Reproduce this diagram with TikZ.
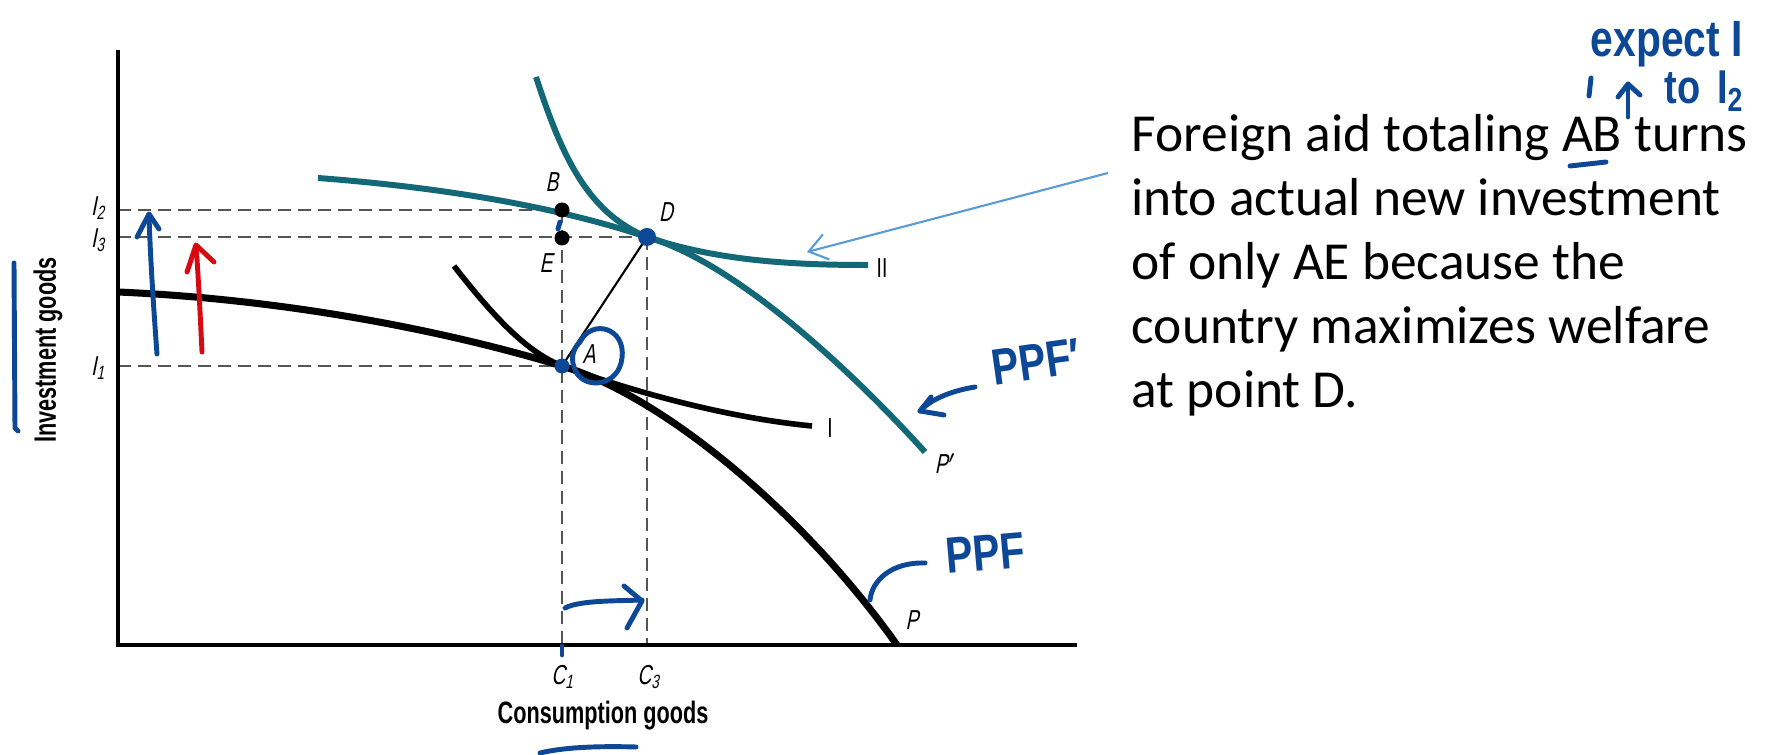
\documentclass[tikz,border=0pt]{standalone}
\usepackage{fontspec}
\setmainfont{Carlito}
\newfontfamily\axisfont[FakeStretch=0.7]{Liberation Sans}
\newfontfamily\labfont[FakeStretch=0.7,FakeSlant=0.2]{Liberation Sans}
\newfontfamily\handfont[FakeStretch=0.8]{Liberation Sans}
\usetikzlibrary{arrows.meta}

\definecolor{tealc}{RGB}{18,104,118}
\definecolor{inkblue}{RGB}{12,72,150}
\definecolor{inkred}{RGB}{215,10,20}
\definecolor{callout}{RGB}{91,155,213}
\definecolor{guidegray}{RGB}{85,85,85}

\begin{document}
\begin{tikzpicture}[x=0.01cm,y=-0.01cm,
  axis/.style={line width=0.9pt},
  guide/.style={draw=guidegray,line width=0.45pt,dash pattern=on 3.7pt off 2pt},
  ppf/.style={line width=2pt},
  tealcurve/.style={draw=tealc,line width=1.7pt},
  dot/.style={circle,fill=black,inner sep=0pt,minimum size=0.15cm},
  lab/.style={font=\labfont\fontsize{7.8}{9}\selectfont,inner sep=1pt},
  upr/.style={font=\axisfont\fontsize{7.8}{9}\selectfont,inner sep=1pt},
  title/.style={font=\axisfont\bfseries\fontsize{8.8}{10}\selectfont},
  ink/.style={draw=inkblue,line width=1.4pt,line cap=round,line join=round},
  hand/.style={text=inkblue,font=\handfont\bfseries\fontsize{14.5}{16}\selectfont,inner sep=0pt}]
\fill[white] (0,0) rectangle (1781,755);
\useasboundingbox (0,0) rectangle (1781,755);

% points of the diagram
\coordinate (O) at (118,645);
\coordinate (ytop) at (118,50);
\coordinate (xend) at (1077,645);
\coordinate (pA) at (562,366);
\coordinate (pB) at (562,210);
\coordinate (pE) at (562,238);
\coordinate (pD) at (647,237);
\coordinate (i2) at (118,210);
\coordinate (i3) at (118,237);
\coordinate (i1) at (118,366);
\coordinate (c1) at (562,645);
\coordinate (c3) at (647,645);

% guide lines
\draw[guide] (i2) -- (pB);
\draw[guide] (i3) -- (pD);
\draw[guide] (i1) -- (pA);
\draw[guide] (pB) -- (c1);
\draw[guide] (pD) -- (c3);

% axes
\draw[axis] (ytop) -- (O) -- (xend);

% PPF and indifference curve I
\draw[ppf] (118,292) .. controls (300,300) and (460,335) .. (pA)
  .. controls (665,397) and (805,515) .. (897,645);
\draw[line width=1.6pt] (454,266) .. controls (500,325) and (530,353) .. (pA)
  .. controls (640,394) and (730,418) .. (812,426);

% PPF' and indifference curve II
\draw[tealcurve] (318,178) .. controls (450,188) and (560,208) .. (pD)
  .. controls (740,264) and (860,380) .. (925,452);
\draw[tealcurve] (536,77) .. controls (560,150) and (585,212) .. (pD)
  .. controls (720,262) and (800,265) .. (868,265);

\draw[line width=0.6pt] (pA) -- (pD);

% dots
\node[dot] (B) at (pB) {};
\node[dot] (E) at (pE) {};
\node[dot,fill=inkblue,minimum size=0.18cm] (D) at (pD) {};
\node[dot,fill=inkblue] (A) at (pA) {};

% labels
\node[lab] (lB) at (552,182) {B};
\node[lab] (lE) at (546,263) {E};
\node[lab] (lD) at (666,212) {D};
\node[lab] (lA) at (589,354) {A};
\node[lab,anchor=east] (lI2) at (110,208) {I\textsubscript{2}};
\node[lab,anchor=east] (lI3) at (110,240) {I\textsubscript{3}};
\node[lab,anchor=east] (lI1) at (110,368) {I\textsubscript{1}};
\node[lab] (lC1) at (563,677) {C\textsubscript{1}};
\node[lab] (lC3) at (649,677) {C\textsubscript{3}};
\node[lab] (lP) at (912,620) {P};
\node[lab] (lPp) at (946,464) {P$'$};
\node[upr] (lI) at (830,428) {I};
\node[upr] (lII) at (882,268) {II};
\node[title] (xtitle) at (603,716) {Consumption goods};
\node[title,rotate=90] (ytitle) at (48,350) {Investment goods};

% note
\node[align=left,anchor=base west,inner sep=0pt,
  font=\fontsize{15.2}{18.2}\selectfont] (aid) at (1131,408)
  {Foreign aid totaling AB turns\\into actual new investment\\of only AE because the\\country maximizes welfare\\at point D.};
\coordinate (aidfoot) at (1108,173);
\coordinate (aidtip) at (807,252);
\draw[callout,line width=0.6pt,-{Straight Barb[length=1.8mm,width=2.6mm]}] (aidfoot) -- (aidtip);

% handwritten notes
\node[hand,anchor=base west] (expect) at (1590,57) {expect I};
\node[hand,anchor=base west,font=\handfont\bfseries\fontsize{13.5}{15}\selectfont] (toI) at (1664,104) {to\hspace{0.35em}I\textsubscript{2}};
\draw[ink] (1591,78) -- (1589,96);
\draw[ink] (1628,117) -- (1628,84);
\draw[ink] (1618,97) -- (1628,84) -- (1640,95);
\draw[ink] (1570,166) -- (1606,162);
\node[hand,rotate=8] (ppfp) at (1036,362) {PPF′};
\node[hand,rotate=5] (ppf) at (985,553) {PPF};
\draw[ink] (975,387) .. controls (950,391) and (930,400) .. (920,411);
\draw[ink] (931,397) -- (920,411) -- (944,415);
\draw[ink] (925,563) .. controls (892,562) and (872,580) .. (870,600);
\draw[ink] (565,608) .. controls (580,600) and (620,601) .. (642,600);
\draw[ink] (624,586) -- (642,601) -- (627,628);
\draw[ink] (157,354) .. controls (153,300) and (150,250) .. (149,215);
\draw[ink] (137,237) -- (149,214) -- (159,229);
\draw[ink,draw=inkred] (202,352) .. controls (200,310) and (198,270) .. (196,246);
\draw[ink,draw=inkred] (187,272) -- (196,245) -- (214,262);
\draw[ink] (14,263) -- (15,428) -- (18,431);
\draw[ink] (580,342) .. controls (592,318) and (626,328) .. (622,358)
  .. controls (619,386) and (586,390) .. (576,372)
  .. controls (570,360) and (572,350) .. (580,342);
\draw[ink] (560,222) -- (558,229);
\draw[ink] (562,646) -- (562,655);
\draw[ink] (540,753) .. controls (565,747) and (600,746) .. (636,747);
\end{tikzpicture}
\end{document}
